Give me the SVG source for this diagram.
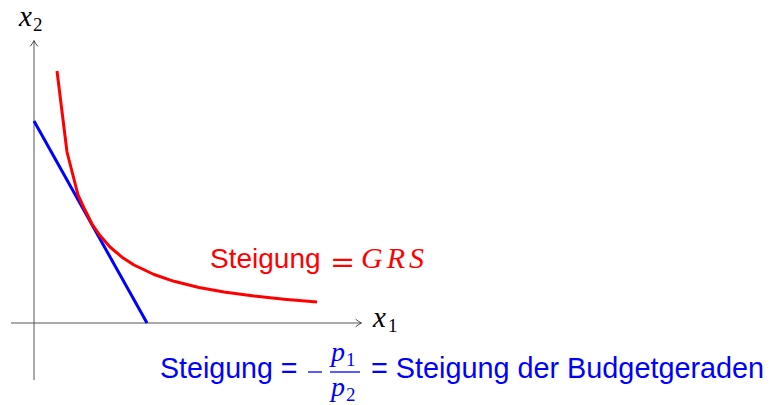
<svg xmlns="http://www.w3.org/2000/svg" width="770" height="405" viewBox="0 0 770 405">
<defs>
<marker id="arr" markerWidth="10" markerHeight="10" refX="7" refY="5" orient="auto" markerUnits="userSpaceOnUse">
<path d="M2,1.5 Q5,4 7.5,5 Q5,6 2,8.5" fill="none" stroke="#444" stroke-width="1" stroke-linecap="round"/>
</marker>
<style>
.axis{stroke:#555;stroke-width:1;fill:none}
.math{font-family:"Liberation Serif","DejaVu Serif",serif;font-style:italic}
.rm{font-family:"Liberation Serif","DejaVu Serif",serif}
.sans{font-family:"Liberation Sans",Arial,sans-serif}
</style>
</defs>
<rect width="770" height="405" fill="#fff"/>
<g id="axes">
<line class="axis" x1="34" y1="380" x2="34" y2="41" marker-end="url(#arr)"/>
<line class="axis" x1="11" y1="323" x2="361" y2="323" marker-end="url(#arr)"/>
<text class="math" x="19" y="26" font-size="29">x</text>
<text class="rm" x="33" y="31" font-size="19">2</text>
<text class="math" x="373" y="327" font-size="29">x</text>
<text class="rm" x="388" y="332" font-size="19">1</text>
</g>
<g id="budget-line">
<line x1="34" y1="121" x2="147" y2="323" stroke="#0000ff" stroke-width="3"/>
</g>
<g id="indifference-curve">
<polyline fill="none" stroke="#ff0000" stroke-width="3" stroke-linejoin="round" points="57,71 67,152 78,195 84,208 92,224 100,235.6 110,247 122,257.2 134,265 154,274.5 174,281.3 199,287.5 224,292 254,296.1 284,299.2 317,302"/>
</g>
<g id="label-grs" fill="#ff0000">
<text class="sans" x="210" y="268" font-size="28">Steigung</text>
<text x="330" y="272" font-size="30" font-family="DejaVu Serif, serif">=</text>
<text class="math" x="361" y="268" font-size="30" letter-spacing="4">GRS</text>
</g>
<g id="label-budget" fill="#0000ff">
<text class="sans" x="160" y="378" font-size="28.6">Steigung =</text>
<line x1="308" y1="372" x2="322" y2="372" stroke="#0000ff" stroke-width="1.3"/>
<line x1="330" y1="372" x2="360" y2="372" stroke="#0000ff" stroke-width="1.3"/>
<text class="math" x="331" y="361" font-size="28">p</text>
<text class="rm" x="346" y="366" font-size="19">1</text>
<text class="math" x="331" y="396" font-size="28">p</text>
<text class="rm" x="346" y="401" font-size="19">2</text>
<text class="sans" x="371" y="378" font-size="28.8">= Steigung der Budgetgeraden</text>
</g>
</svg>
